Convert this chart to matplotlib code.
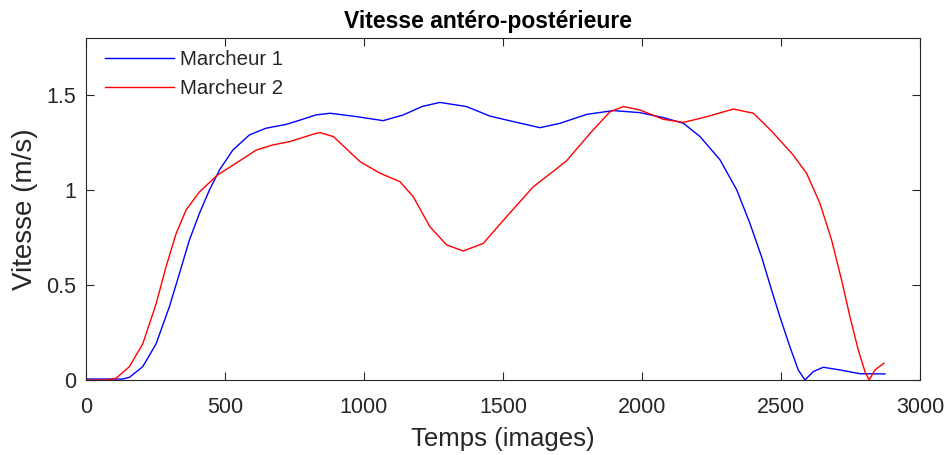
import matplotlib
matplotlib.use("Agg")
import matplotlib.pyplot as plt

plt.rcParams['font.family'] = ['Liberation Sans', 'DejaVu Sans']

# Marcheur 1 (blue)
t1 = [0, 60, 132, 156, 204, 252, 300, 336, 372, 408, 444, 480, 528, 588, 647, 719, 770, 827, 878,
      974, 1069, 1141, 1210, 1273, 1369, 1453, 1537, 1633, 1705, 1801, 1897, 1993, 2077, 2149,
      2209, 2281, 2341, 2388, 2430, 2466, 2496, 2532, 2562, 2586, 2616, 2652, 2712, 2784, 2874]
v1 = [0.005, 0.005, 0.005, 0.014, 0.07, 0.19, 0.386, 0.56, 0.737, 0.877, 1.0, 1.105, 1.21, 1.29,
      1.325, 1.345, 1.368, 1.395, 1.404, 1.386, 1.365, 1.395, 1.44, 1.461, 1.439, 1.389, 1.36,
      1.328, 1.351, 1.398, 1.418, 1.407, 1.381, 1.351, 1.281, 1.158, 1.0, 0.825, 0.649, 0.474,
      0.333, 0.175, 0.053, 0.0, 0.044, 0.067, 0.053, 0.033, 0.032]

# Marcheur 2 (red)
t2 = [0, 72, 108, 156, 204, 252, 288, 324, 360, 408, 474, 528, 612, 671, 731, 770, 827, 842, 890,
      986, 1058, 1129, 1177, 1237, 1297, 1357, 1429, 1513, 1609, 1705, 1729, 1813, 1885, 1933,
      1993, 2077, 2149, 2209, 2233, 2329, 2401, 2460, 2484, 2544, 2592, 2640, 2682, 2718, 2748,
      2778, 2802, 2817, 2838, 2870]
v2 = [0.0, 0.0, 0.009, 0.07, 0.19, 0.40, 0.596, 0.77, 0.895, 0.99, 1.08, 1.13, 1.21, 1.237, 1.254,
      1.272, 1.298, 1.302, 1.281, 1.149, 1.088, 1.044, 0.965, 0.807, 0.711, 0.679, 0.719, 0.86,
      1.017, 1.126, 1.154, 1.298, 1.412, 1.439, 1.421, 1.372, 1.356, 1.377, 1.386, 1.426, 1.404,
      1.319, 1.281, 1.184, 1.088, 0.93, 0.737, 0.526, 0.333, 0.158, 0.044, 0.0, 0.053, 0.088]

W, H = 948, 455
fig = plt.figure(figsize=(W / 100, H / 100), dpi=100)
ax = fig.add_axes([86 / W, 1 - 380 / H, (920 - 86) / W, (380 - 38) / H])

ax.plot(t1, v1, color=(0, 0, 1), lw=1.0, label='Marcheur 1')
ax.plot(t2, v2, color=(1, 0, 0), lw=1.0, label='Marcheur 2')

ax.set_xlim(0, 3000)
ax.set_ylim(0, 1.8)
ax.set_xticks([0, 500, 1000, 1500, 2000, 2500, 3000])
ax.set_yticks([0, 0.5, 1, 1.5])
ax.set_yticklabels(['0', '0.5', '1', '1.5'])

dark = (0.15, 0.15, 0.15)
for s in ax.spines.values():
    s.set_color(dark)
    s.set_linewidth(0.8)
ax.tick_params(direction='in', top=True, right=True, length=6, width=0.8,
               colors=dark, labelsize=15.5)
ax.tick_params(axis='x', pad=12)
ax.tick_params(axis='y', pad=7)

ax.set_xlabel('Temps (images)', fontsize=18.5, color=dark)
ax.xaxis.set_label_coords(0.5, -0.138)
ax.set_ylabel('Vitesse (m/s)', fontsize=20, color=dark)
ax.yaxis.set_label_coords(-0.058, 0.5)
ax.set_title('Vitesse antéro-postérieure', fontsize=16.5, fontweight='bold', color='black',
             pad=7, x=(488 - 86) / (920 - 86))

leg = ax.legend(loc='upper left', frameon=False, fontsize=14.7, handlelength=3.4,
                handletextpad=0.25, borderaxespad=0, borderpad=0, labelspacing=0.5,
                bbox_to_anchor=(105 / W, 1 - 50 / H), bbox_transform=fig.transFigure)
for txt in leg.get_texts():
    txt.set_color(dark)

fig.savefig('out.png', dpi=100)
